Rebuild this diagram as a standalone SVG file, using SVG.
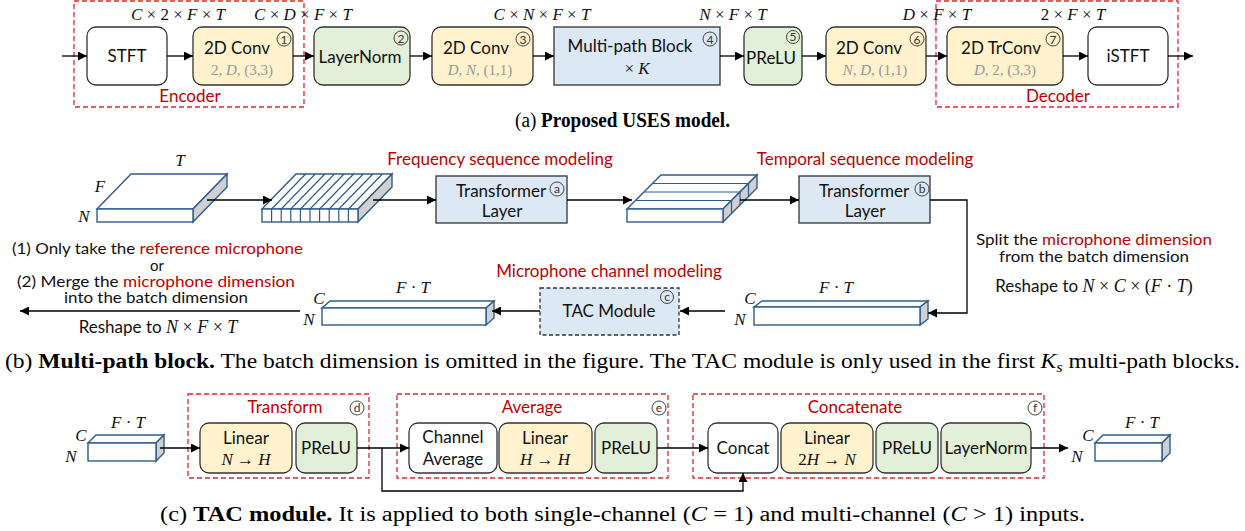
<svg xmlns="http://www.w3.org/2000/svg" width="1245" height="531" viewBox="0 0 1245 531">
<defs>
<marker id="ah" viewBox="0 0 10 10" refX="10" refY="5" markerWidth="9" markerHeight="9" markerUnits="userSpaceOnUse" orient="auto"><path d="M0,0 L10,5 L0,10 z" fill="#000"/></marker>
<style>
.bx{stroke:#333;stroke-width:1.3}
.w{fill:#fff}.y{fill:#fff2cc}.g{fill:#e2efd9}.b{fill:#dde8f5}
.t{font-family:Lato,"Open Sans",sans-serif;font-size:17px;fill:#111;text-anchor:middle}
.ts{font-family:Lato,"Open Sans",sans-serif;font-size:17px;fill:#111;text-anchor:middle}
.tn{font-family:Lato,"Open Sans",sans-serif;font-size:15px;fill:#111;text-anchor:start}
.r{fill:#c00000}
.m{font-family:"Liberation Serif",serif;font-size:17px;fill:#111;text-anchor:middle}
.i{font-style:italic}
.sub{font-family:"Liberation Serif",serif;font-size:15px;fill:#999;text-anchor:middle}
.red{fill:none;stroke:#e0252a;stroke-width:1.3;stroke-dasharray:5,3}
.cn{fill:none;stroke:#444;stroke-width:1}
.cd{font-family:Lato,sans-serif;font-size:12px;fill:#333;text-anchor:middle}
.sl{fill:#fff;stroke:#2e5c8a;stroke-width:1.4}
.sd{fill:#d0d0d0;stroke:#2e5c8a;stroke-width:1.4}
.ln{fill:none;stroke:#000;stroke-width:1.3}
.cap{font-family:"Liberation Serif",serif;font-size:20px;fill:#000;text-anchor:start}
</style>
</defs>

<!-- (a) -->
<g id="encoder"><rect class="red" x="74" y="1" width="230" height="106"/><text class="ts r" x="190" y="102">Encoder</text></g>
<g id="decoder"><rect class="red" x="936" y="1" width="242" height="106"/><text class="ts r" x="1058" y="102">Decoder</text></g>
<g id="stft"><rect class="bx w" x="87" y="27" width="80" height="58" rx="9"/><text class="t" x="127" y="62">STFT</text></g>
<g id="conv1"><rect class="bx y" x="193" y="27" width="100" height="58" rx="9"/><text class="t" x="237" y="54">2D Conv</text><circle class="cn" cx="284" cy="39" r="7"/><text class="cd" x="284" y="43.5">1</text><text class="sub" x="242" y="75"><tspan>2, </tspan><tspan class="i">D</tspan><tspan>, (3,3)</tspan></text></g>
<g id="ln2"><rect class="bx g" x="314" y="27" width="96" height="58" rx="9"/><text class="t" x="360" y="63">LayerNorm</text><circle class="cn" cx="401" cy="38" r="7"/><text class="cd" x="401" y="42.5">2</text></g>
<g id="conv3"><rect class="bx y" x="432" y="27" width="101" height="58" rx="9"/><text class="t" x="476" y="54">2D Conv</text><circle class="cn" cx="523" cy="39" r="7"/><text class="cd" x="523" y="43.5">3</text><text class="sub" x="480" y="75"><tspan class="i">D</tspan><tspan>, </tspan><tspan class="i">N</tspan><tspan>, (1,1)</tspan></text></g>
<g id="mpb"><rect class="bx b" x="554" y="27" width="166" height="58"/><text class="t" x="630" y="52">Multi-path Block</text><circle class="cn" cx="710" cy="39" r="7"/><text class="cd" x="710" y="43.5">4</text><text class="m" x="637" y="74"><tspan>× </tspan><tspan class="i">K</tspan></text></g>
<g id="prelu5"><rect class="bx g" x="744" y="27" width="58" height="58" rx="9"/><text class="t" x="771" y="64" font-size="16">PReLU</text><circle class="cn" cx="793" cy="37" r="6.5"/><text class="cd" x="793" y="41">5</text></g>
<g id="conv6"><rect class="bx y" x="826" y="27" width="100" height="58" rx="9"/><text class="t" x="869" y="54">2D Conv</text><circle class="cn" cx="917" cy="39" r="7"/><text class="cd" x="917" y="43.5">6</text><text class="sub" x="875" y="75"><tspan class="i">N</tspan><tspan>, </tspan><tspan class="i">D</tspan><tspan>, (1,1)</tspan></text></g>
<g id="trconv7"><rect class="bx y" x="947" y="27" width="116" height="58" rx="9"/><text class="t" x="1001" y="54">2D TrConv</text><circle class="cn" cx="1053" cy="39" r="7"/><text class="cd" x="1053" y="43.5">7</text><text class="sub" x="1005" y="75"><tspan class="i">D</tspan><tspan>, 2, (3,3)</tspan></text></g>
<g id="istft"><rect class="bx w" x="1088" y="27" width="80" height="58" rx="9"/><text class="t" x="1128" y="62">iSTFT</text></g>
<g id="dims-a">
<text class="m" x="178" y="20"><tspan class="i">C</tspan> × 2 × <tspan class="i">F</tspan> × <tspan class="i">T</tspan></text>
<text class="m" x="303" y="20"><tspan class="i">C</tspan> × <tspan class="i">D</tspan> × <tspan class="i">F</tspan> × <tspan class="i">T</tspan></text>
<text class="m" x="542" y="20"><tspan class="i">C</tspan> × <tspan class="i">N</tspan> × <tspan class="i">F</tspan> × <tspan class="i">T</tspan></text>
<text class="m" x="733" y="20"><tspan class="i">N</tspan> × <tspan class="i">F</tspan> × <tspan class="i">T</tspan></text>
<text class="m" x="937" y="20"><tspan class="i">D</tspan> × <tspan class="i">F</tspan> × <tspan class="i">T</tspan></text>
<text class="m" x="1073" y="20">2 × <tspan class="i">F</tspan> × <tspan class="i">T</tspan></text>
</g>
<g id="connectors-a" class="ln" marker-end="url(#ah)">
<line x1="62" y1="56" x2="87" y2="56"/><line x1="167" y1="56" x2="193" y2="56"/><line x1="293" y1="56" x2="314" y2="56"/><line x1="410" y1="56" x2="432" y2="56"/><line x1="533" y1="56" x2="554" y2="56"/><line x1="720" y1="56" x2="744" y2="56"/><line x1="802" y1="56" x2="826" y2="56"/><line x1="926" y1="56" x2="947" y2="56"/><line x1="1063" y1="56" x2="1088" y2="56"/><line x1="1168" y1="56" x2="1193" y2="56"/>
</g>
<text class="cap" x="515" y="127" textLength="215" lengthAdjust="spacingAndGlyphs">(a) <tspan font-weight="bold">Proposed USES model.</tspan></text>

<!-- (b) -->
<g id="slab1"><path class="sl" d="M97,209 L131,174 L227,174 L193,209 Z"/><path class="sd" d="M193,209 L227,174 L227,187 L193,222 Z"/><rect class="sl" x="97" y="209" width="96" height="13"/>
<text class="m i" x="180" y="166">T</text><text class="m i" x="100" y="192">F</text><text class="m i" x="84" y="222">N</text></g>
<g id="slab2"><path class="sl" d="M262,209 L296,174 L392,174 L358,209 Z"/><path class="sd" d="M358,209 L392,174 L392,187 L358,222 Z"/><rect class="sl" x="262" y="209" width="96" height="13"/>
<path fill="none" stroke="#2e5c8a" stroke-width="1.2" d="M271.6,222 V209 L305.6,174 M281.2,222 V209 L315.2,174 M290.8,222 V209 L324.8,174 M300.4,222 V209 L334.4,174 M310,222 V209 L344,174 M319.6,222 V209 L353.6,174 M329.2,222 V209 L363.2,174 M338.8,222 V209 L372.8,174 M348.4,222 V209 L382.4,174"/></g>
<g id="tfa"><rect class="bx b" x="436" y="176" width="131" height="47"/><text class="ts" x="501" y="197" font-size="18">Transformer</text><circle class="cn" cx="557" cy="189" r="7"/><text class="cd" x="557" y="193">a</text><text class="ts" x="502" y="217" font-size="18">Layer</text>
<text class="ts r" x="500" y="165">Frequency sequence modeling</text></g>
<g id="slab3"><path class="sl" d="M627,209 L661,175 L757,175 L723,209 Z"/><path class="sd" d="M723,209 L757,175 L757,188 L723,222 Z"/><rect class="sl" x="627" y="209" width="96" height="13"/>
<path fill="none" stroke="#2e5c8a" stroke-width="1.2" d="M635.5,200.5 H731.5 V213.5 M644,192 H740 V205 M652.5,183.5 H748.5 V196.5"/></g>
<g id="tfb"><rect class="bx b" x="799" y="176" width="131" height="47"/><text class="ts" x="864" y="197" font-size="18">Transformer</text><circle class="cn" cx="922" cy="189" r="7"/><text class="cd" x="922" y="193">b</text><text class="ts" x="865" y="217" font-size="18">Layer</text>
<text class="ts r" x="865" y="165">Temporal sequence modeling</text></g>
<g id="split-text"><text class="tn" x="976" y="245" textLength="236" lengthAdjust="spacingAndGlyphs">Split the <tspan class="r">microphone dimension</tspan></text><text class="tn" x="999" y="262" textLength="190" lengthAdjust="spacingAndGlyphs">from the batch dimension</text>
<text class="ts" x="1094" y="292">Reshape to <tspan font-family="Liberation Serif" font-size="18"><tspan class="i">N</tspan> × <tspan class="i">C</tspan> × (<tspan class="i">F</tspan> · <tspan class="i">T</tspan>)</tspan></text></g>
<g id="slab4"><path class="sl" d="M754,307 L762,301 L928,301 L920,307 Z"/><path class="sd" d="M920,307 L928,301 L928,319 L920,325 Z"/><rect class="sl" x="754" y="307" width="166" height="18"/>
<text class="m i" x="750" y="304">C</text><text class="m i" x="740" y="325">N</text><text class="m" x="836" y="293"><tspan class="i">F</tspan> · <tspan class="i">T</tspan></text></g>
<g id="tac"><rect x="540" y="288" width="139" height="47" fill="#dde8f5" stroke="#333" stroke-width="1.3" stroke-dasharray="4,2.5"/><text class="ts" x="609" y="317" font-size="18">TAC Module</text><circle class="cn" cx="667" cy="297" r="6.5"/><text class="cd" x="667" y="301">c</text>
<text class="ts r" x="609" y="277">Microphone channel modeling</text></g>
<g id="slab5"><path class="sl" d="M322,308 L330,301 L494,301 L486,308 Z"/><path class="sd" d="M486,308 L494,301 L494,318 L486,325 Z"/><rect class="sl" x="322" y="308" width="164" height="17"/>
<text class="m i" x="319" y="304">C</text><text class="m i" x="309" y="325">N</text><text class="m" x="413" y="293"><tspan class="i">F</tspan> · <tspan class="i">T</tspan></text></g>
<g id="merge-text"><text class="tn" x="12" y="254" textLength="291" lengthAdjust="spacingAndGlyphs">(1) Only take the <tspan class="r">reference microphone</tspan></text><text class="tn" x="150" y="271">or</text>
<text class="tn" x="17" y="287" textLength="278" lengthAdjust="spacingAndGlyphs">(2) Merge the <tspan class="r">microphone dimension</tspan></text><text class="tn" x="64" y="303" textLength="184" lengthAdjust="spacingAndGlyphs">into the batch dimension</text>
<text class="ts" x="158" y="333">Reshape to <tspan font-family="Liberation Serif" font-size="18"><tspan class="i">N</tspan> × <tspan class="i">F</tspan> × <tspan class="i">T</tspan></tspan></text></g>
<g id="connectors-b" class="ln" marker-end="url(#ah)">
<line x1="207" y1="200" x2="272" y2="200"/><line x1="373" y1="200" x2="436" y2="200"/><line x1="567" y1="200" x2="632" y2="200"/><line x1="740" y1="200" x2="799" y2="200"/>
<polyline points="930,200 967,200 967,313 928,313"/>
<line x1="725" y1="311" x2="680" y2="311"/><line x1="540" y1="311" x2="492" y2="311"/><line x1="300" y1="311" x2="20" y2="311"/>
</g>
<text class="cap" x="5" y="368" textLength="1235" lengthAdjust="spacingAndGlyphs">(b) <tspan font-weight="bold">Multi-path block.</tspan> The batch dimension is omitted in the figure. The TAC module is only used in the first <tspan class="i">K</tspan><tspan class="i" font-size="14" dy="4">s</tspan><tspan dy="-4"> multi-path blocks.</tspan></text>

<!-- (c) -->
<g id="slab6"><path class="sl" d="M88,443 L96,435 L164,435 L156,443 Z"/><path class="sd" d="M156,443 L164,435 L164,453 L156,461 Z"/><rect class="sl" x="88" y="443" width="68" height="18"/>
<text class="m i" x="81" y="441">C</text><text class="m i" x="71" y="462">N</text><text class="m" x="128" y="428"><tspan class="i">F</tspan> · <tspan class="i">T</tspan></text></g>
<g id="transform"><rect class="red" x="188" y="394" width="181" height="84"/><text class="ts r" x="285" y="413" font-size="18.5">Transform</text><circle class="cn" cx="357" cy="408" r="7"/><text class="cd" x="357" y="412">d</text>
<rect class="bx y" x="200" y="423" width="92" height="50" rx="9"/><text class="ts" x="246" y="444">Linear</text><text class="m" x="246" y="465"><tspan class="i">N</tspan> → <tspan class="i">H</tspan></text>
<rect class="bx g" x="296" y="423" width="61" height="50" rx="9"/><text class="ts" x="326" y="454">PReLU</text></g>
<g id="average"><rect class="red" x="397" y="394" width="271" height="84"/><text class="ts r" x="532" y="413" font-size="18">Average</text><circle class="cn" cx="659" cy="408" r="7"/><text class="cd" x="659" y="412">e</text>
<rect class="bx w" x="409" y="423" width="88" height="50" rx="9"/><text class="ts" x="453" y="443">Channel</text><text class="ts" x="453" y="465">Average</text>
<rect class="bx y" x="499" y="423" width="93" height="50" rx="9"/><text class="ts" x="545" y="444">Linear</text><text class="m" x="545" y="465"><tspan class="i">H</tspan> → <tspan class="i">H</tspan></text>
<rect class="bx g" x="595" y="423" width="62" height="50" rx="9"/><text class="ts" x="626" y="454">PReLU</text></g>
<g id="concatenate"><rect class="red" x="693" y="394" width="351" height="84"/><text class="ts r" x="855" y="413" font-size="18">Concatenate</text><circle class="cn" cx="1035" cy="408" r="7"/><text class="cd" x="1035" y="412">f</text>
<rect class="bx w" x="708" y="423" width="70" height="50" rx="9"/><text class="ts" x="743" y="454">Concat</text>
<rect class="bx y" x="781" y="423" width="92" height="50" rx="9"/><text class="ts" x="827" y="444">Linear</text><text class="m" x="827" y="465">2<tspan class="i">H</tspan> → <tspan class="i">N</tspan></text>
<rect class="bx g" x="876" y="423" width="62" height="50" rx="9"/><text class="ts" x="907" y="454">PReLU</text>
<rect class="bx g" x="941" y="423" width="90" height="50" rx="9"/><text class="ts" x="986" y="454">LayerNorm</text></g>
<g id="slab7"><path class="sl" d="M1095,443 L1103,435 L1170,435 L1162,443 Z"/><path class="sd" d="M1162,443 L1170,435 L1170,453 L1162,461 Z"/><rect class="sl" x="1095" y="443" width="67" height="18"/>
<text class="m i" x="1088" y="441">C</text><text class="m i" x="1077" y="462">N</text><text class="m" x="1142" y="428"><tspan class="i">F</tspan> · <tspan class="i">T</tspan></text></g>
<g id="connectors-c" class="ln" marker-end="url(#ah)">
<line x1="160" y1="448" x2="200" y2="448"/><line x1="357" y1="448" x2="409" y2="448"/><line x1="657" y1="448" x2="708" y2="448"/><line x1="1031" y1="448" x2="1068" y2="448"/>
<polyline points="382,448 382,491 743,491 743,473"/>
</g>
<text class="cap" x="160" y="521" textLength="925" lengthAdjust="spacingAndGlyphs">(c) <tspan font-weight="bold">TAC module.</tspan> It is applied to both single-channel (<tspan class="i">C</tspan> = 1) and multi-channel (<tspan class="i">C</tspan> &gt; 1) inputs.</text>
</svg>
